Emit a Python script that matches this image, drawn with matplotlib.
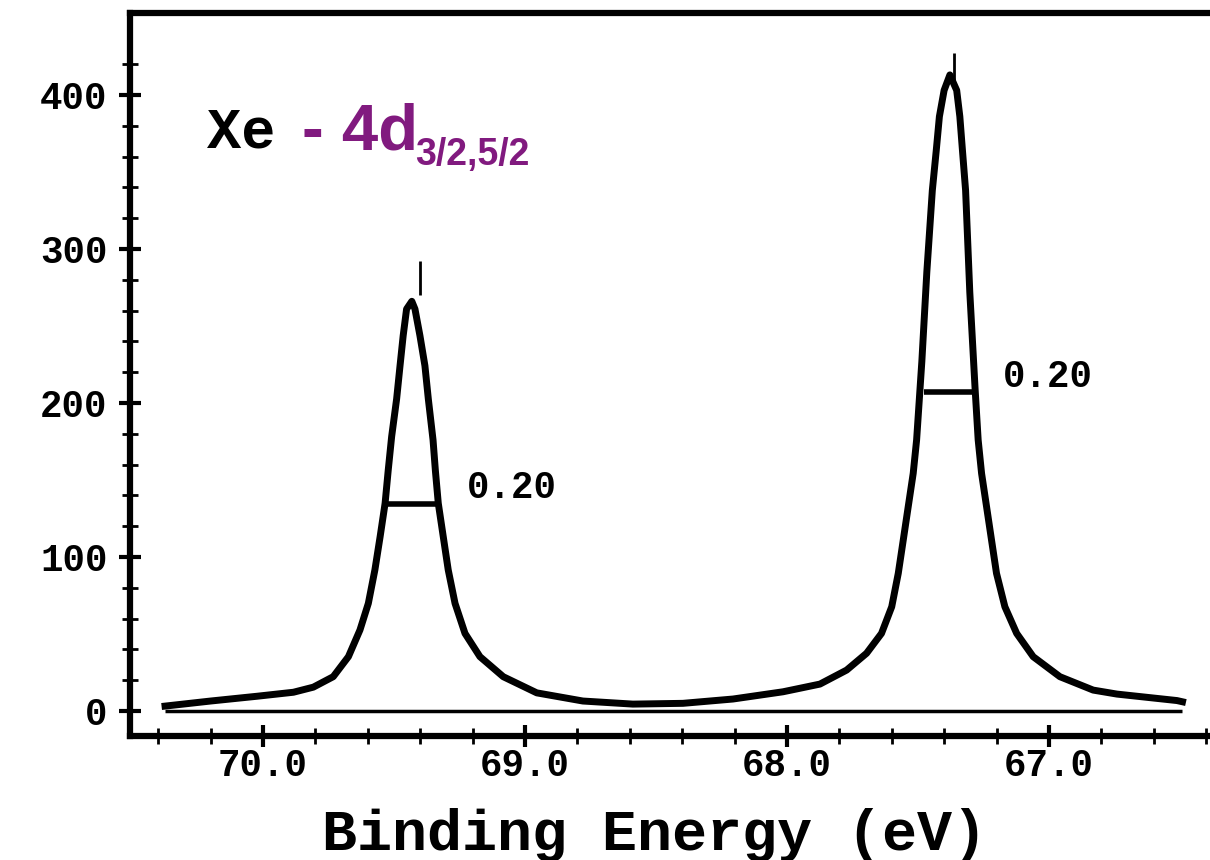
import numpy as np
import matplotlib
matplotlib.use("Agg")
import matplotlib.pyplot as plt
from matplotlib.ticker import MultipleLocator, FixedLocator, FormatStrFormatter

# binding energy (eV) and counts
energy = [70.374, 70.200, 70.023, 69.884, 69.808, 69.732, 69.674, 69.630, 69.598,
          69.573, 69.553, 69.534, 69.522, 69.509, 69.490, 69.477, 69.465, 69.452,
          69.432, 69.420, 69.401, 69.382, 69.369, 69.351, 69.342, 69.331, 69.312,
          69.293, 69.267, 69.229, 69.172, 69.083, 68.955, 68.779, 68.588, 68.397,
          68.206, 68.015, 67.950, 67.874, 67.772, 67.696, 67.639, 67.600, 67.575,
          67.556, 67.537, 67.518, 67.505, 67.485, 67.466, 67.445, 67.430, 67.418,
          67.400, 67.378, 67.352, 67.340, 67.330, 67.318, 67.302, 67.282, 67.270,
          67.257, 67.238, 67.219, 67.200, 67.168, 67.123, 67.060, 66.958, 66.831,
          66.740, 66.511, 66.490]
counts = [3.2, 6.5, 9.6, 12.2, 15.5, 22.3, 35.3, 52.6, 69.9,
          91.6, 113.2, 134.9, 156.5, 178.2, 202.6, 224.2, 243.7, 261,
          266, 261, 243.7, 224.2, 202.6, 176, 156, 134.9, 113.2,
          91.6, 69.9, 50.4, 35.3, 22.3, 11.8, 6.5, 4.5, 5.0,
          7.8, 12.5, 14.8, 17.5, 26.6, 37.5, 50.4, 67.7, 89.4,
          111, 132.7, 154.3, 176, 227, 285, 338, 364, 386,
          403, 413, 403, 386, 364, 338, 272, 210, 176,
          154.3, 132.7, 111, 89.4, 67.7, 50.4, 35.3, 22.3, 13.6,
          11, 6.8, 6.0]

# noise spikes sticking out of the peak tops
spike_x = [69.400, 67.363]
spike_lo = [270, 410]
spike_hi = [292, 427]

# FWHM markers
fwhm_y = [134.5, 207]
fwhm_left = [69.527, 67.478]
fwhm_right = [69.336, 67.286]
fwhm_text = ["0.20", "0.20"]
fwhm_text_x = [69.221, 67.176]
fwhm_text_y = [144.8, 216.9]

base_left, base_right = 70.374, 66.49

purple = "#811a7f"
mono = "Liberation Mono"

fig = plt.figure(figsize=(12.1, 8.6), dpi=100)
ax = fig.add_axes([0.1074, 0.1442, 0.8926, 0.8407])

ax.plot(energy, counts, color="black", lw=5, solid_joinstyle="round")
ax.vlines(spike_x, spike_lo, spike_hi, color="black", lw=2)
ax.hlines(0, base_left, base_right, color="black", lw=2.5)
ax.hlines(fwhm_y, fwhm_left, fwhm_right, color="black", lw=4)
for t, x, y in zip(fwhm_text, fwhm_text_x, fwhm_text_y):
    ax.text(x, y, t, fontsize=27, fontweight="bold", family=mono,
            ha="left", va="center")

ax.set_xlim(70.508, 66.385)
ax.set_ylim(-16.2, 453.2)

ax.xaxis.set_major_locator(MultipleLocator(1.0))
ax.xaxis.set_minor_locator(MultipleLocator(0.2))
ax.xaxis.set_major_formatter(FormatStrFormatter("%.1f"))
ax.yaxis.set_major_locator(MultipleLocator(100))
ax.yaxis.set_minor_locator(FixedLocator(np.arange(0, 421, 20)))

ax.tick_params(which="major", direction="inout", length=16, width=3)
ax.tick_params(which="minor", direction="inout", length=12, width=2)
ax.tick_params(axis="y", which="major", pad=8)
ax.tick_params(axis="x", which="major", pad=1)
for lab in ax.get_xticklabels() + ax.get_yticklabels():
    lab.set_family(mono)
    lab.set_fontweight("bold")
    lab.set_fontsize(27)

for s in ["top", "left", "bottom"]:
    ax.spines[s].set_linewidth(4.5)
ax.spines["right"].set_visible(False)

ax.set_xlabel("Binding Energy (eV)", family=mono, fontweight="bold", fontsize=42)
ax.xaxis.set_label_coords(0.486, -0.158)
ax.xaxis.label.set_va("baseline")

# title: Xe - 4d 3/2,5/2
W, H = 1210.0, 860.0
fig.text(207 / W, 1 - 148 / H, "Xe", family=mono, fontweight="bold",
         fontsize=41, va="baseline", ha="left")
fig.text(302 / W, 1 - 150 / H, "- 4d", family="Liberation Sans", fontweight="bold",
         fontsize=47, color=purple, va="baseline", ha="left")
fig.text(415 / W, 1 - 165 / H, "3/2,5/2", family="Liberation Sans", fontweight="bold",
         fontsize=27, color=purple, va="baseline", ha="left")

fig.savefig("out.png", dpi=100)
